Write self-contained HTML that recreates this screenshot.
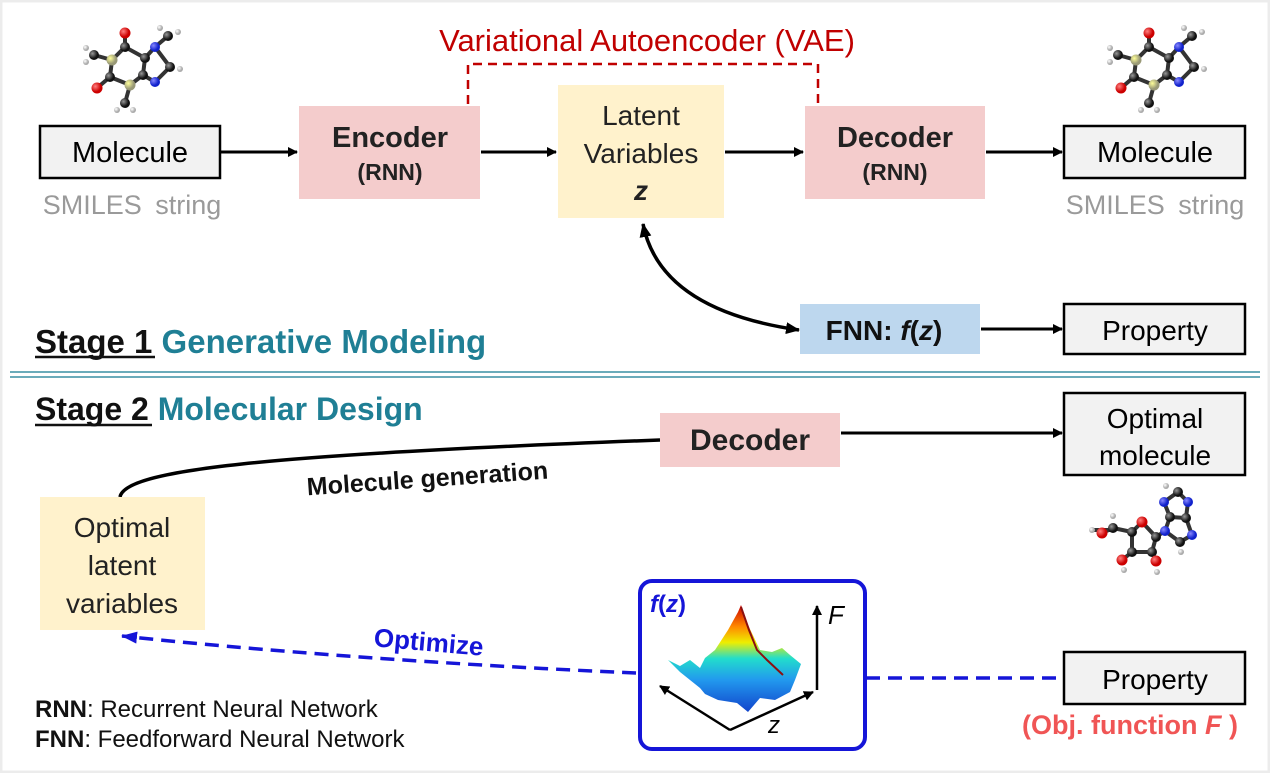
<!DOCTYPE html>
<html><head><meta charset="utf-8"><style>
html,body{margin:0;padding:0;background:#fff}
svg{display:block}
text{font-family:"Liberation Sans",Arial,sans-serif}
</style></head><body>
<svg width="1270" height="773" viewBox="0 0 1270 773" xmlns="http://www.w3.org/2000/svg">
<defs>
<marker id="ah" markerWidth="10" markerHeight="10" refX="9" refY="5" orient="auto" markerUnits="userSpaceOnUse"><path d="M0,0 L10,5 L0,10 z" fill="#000"/></marker>
<marker id="ahs" markerWidth="14" markerHeight="12" refX="13" refY="6" orient="auto-start-reverse" markerUnits="userSpaceOnUse"><path d="M0,0 L14,6 L0,12 z" fill="#000"/></marker>
<marker id="bh" markerWidth="16" markerHeight="12" refX="15" refY="6" orient="auto" markerUnits="userSpaceOnUse"><path d="M0,0 L16,6 L0,12 z" fill="#1515d8"/></marker>
<marker id="sa" markerWidth="10" markerHeight="10" refX="9" refY="5" orient="auto" markerUnits="userSpaceOnUse"><path d="M0,0 L10,5 L0,10 z" fill="#000"/></marker>
<radialGradient id="gk" cx="35%" cy="35%"><stop offset="0" stop-color="#999"/><stop offset="1" stop-color="#111"/></radialGradient>
<radialGradient id="gr" cx="35%" cy="35%"><stop offset="0" stop-color="#ff8080"/><stop offset="1" stop-color="#c00"/></radialGradient>
<radialGradient id="gb" cx="35%" cy="35%"><stop offset="0" stop-color="#88f"/><stop offset="1" stop-color="#12c"/></radialGradient>
<radialGradient id="gy" cx="35%" cy="35%"><stop offset="0" stop-color="#ff9"/><stop offset="1" stop-color="#997"/></radialGradient>
<radialGradient id="gw" cx="35%" cy="35%"><stop offset="0" stop-color="#fff"/><stop offset="1" stop-color="#aaa"/></radialGradient>
<linearGradient id="surf" x1="0" y1="0" x2="0" y2="1"><stop offset="0" stop-color="#c00"/><stop offset="0.2" stop-color="#f80"/><stop offset="0.35" stop-color="#ee0"/><stop offset="0.5" stop-color="#2dc"/><stop offset="0.7" stop-color="#29e"/><stop offset="1" stop-color="#14c"/></linearGradient>
<g id="caf">
 <g stroke="#333" stroke-width="4">
  <line x1="125" y1="47" x2="125" y2="33"/><line x1="125" y1="47" x2="145" y2="58"/><line x1="145" y1="58" x2="155" y2="47"/>
  <line x1="155" y1="47" x2="168" y2="36"/><line x1="155" y1="47" x2="170" y2="67"/><line x1="170" y1="67" x2="155" y2="82"/>
  <line x1="155" y1="82" x2="143" y2="75"/><line x1="143" y1="75" x2="145" y2="58"/><line x1="143" y1="75" x2="130" y2="85"/>
  <line x1="130" y1="85" x2="125" y2="103"/><line x1="130" y1="85" x2="110" y2="77"/><line x1="110" y1="77" x2="97" y2="88"/>
  <line x1="110" y1="77" x2="112" y2="60"/><line x1="112" y1="60" x2="125" y2="47"/><line x1="112" y1="60" x2="94" y2="55"/>
 </g>
 <circle cx="168" cy="36" r="5" fill="url(#gk)"/><circle cx="94" cy="55" r="5" fill="url(#gk)"/><circle cx="125" cy="103" r="5" fill="url(#gk)"/>
 <circle cx="178" cy="32" r="3" fill="url(#gw)"/><circle cx="160" cy="28" r="3" fill="url(#gw)"/><circle cx="86" cy="48" r="3" fill="url(#gw)"/><circle cx="86" cy="62" r="3" fill="url(#gw)"/><circle cx="117" cy="110" r="3" fill="url(#gw)"/><circle cx="133" cy="110" r="3" fill="url(#gw)"/><circle cx="180" cy="69" r="3" fill="url(#gw)"/>
 <circle cx="125" cy="47" r="5" fill="url(#gk)"/><circle cx="145" cy="58" r="5" fill="url(#gk)"/><circle cx="143" cy="75" r="5" fill="url(#gk)"/><circle cx="170" cy="67" r="5" fill="url(#gk)"/><circle cx="110" cy="77" r="5" fill="url(#gk)"/>
 <circle cx="125" cy="33" r="5.5" fill="url(#gr)"/><circle cx="97" cy="88" r="5.5" fill="url(#gr)"/>
 <circle cx="155" cy="47" r="5" fill="url(#gb)"/><circle cx="155" cy="82" r="5" fill="url(#gb)"/>
 <circle cx="130" cy="85" r="5.5" fill="url(#gy)"/><circle cx="112" cy="60" r="5.5" fill="url(#gy)"/>
</g>
</defs>
<rect x="1" y="1" width="1268" height="771" fill="#fff" stroke="#ececec" stroke-width="3"/>

<use href="#caf"/>
<use href="#caf" x="1024" y="0"/>

<rect x="40" y="126" width="180" height="52" fill="#f2f2f2" stroke="#000" stroke-width="2.5"/>
<text x="130" y="162" font-size="29" text-anchor="middle">Molecule</text>
<text x="132" y="214" font-size="27" text-anchor="middle" fill="#9a9a9a" word-spacing="6">SMILES string</text>
<line x1="221" y1="152" x2="297" y2="152" stroke="#000" stroke-width="3" marker-end="url(#ah)"/>

<rect x="299" y="106" width="181" height="93" fill="#f4cccc"/>
<text x="390" y="147" font-size="29" font-weight="bold" text-anchor="middle" fill="#222">Encoder</text>
<text x="390" y="180" font-size="23" font-weight="bold" text-anchor="middle" fill="#222">(RNN)</text>
<line x1="481" y1="152" x2="556" y2="152" stroke="#000" stroke-width="3" marker-end="url(#ah)"/>

<rect x="558" y="85" width="166" height="133" fill="#fff2cc"/>
<text x="641" y="125" font-size="28" text-anchor="middle" fill="#222">Latent</text>
<text x="641" y="163" font-size="28" text-anchor="middle" fill="#222">Variables</text>
<text x="641" y="200" font-size="28" font-weight="bold" font-style="italic" text-anchor="middle" fill="#222">z</text>
<line x1="725" y1="152" x2="803" y2="152" stroke="#000" stroke-width="3" marker-end="url(#ah)"/>

<rect x="805" y="106" width="180" height="93" fill="#f4cccc"/>
<text x="895" y="147" font-size="29" font-weight="bold" text-anchor="middle" fill="#222">Decoder</text>
<text x="895" y="180" font-size="23" font-weight="bold" text-anchor="middle" fill="#222">(RNN)</text>
<line x1="986" y1="152" x2="1062" y2="152" stroke="#000" stroke-width="3" marker-end="url(#ah)"/>

<rect x="1064" y="126" width="181" height="52" fill="#f2f2f2" stroke="#000" stroke-width="2.5"/>
<text x="1155" y="162" font-size="29" text-anchor="middle">Molecule</text>
<text x="1155" y="214" font-size="27" text-anchor="middle" fill="#9a9a9a" word-spacing="6">SMILES string</text>

<polyline points="468,104 468,64 818,64 818,104" fill="none" stroke="#c00000" stroke-width="2.5" stroke-dasharray="9,6"/>
<text x="647" y="51" font-size="31" text-anchor="middle" fill="#c00000">Variational Autoencoder (VAE)</text>

<path d="M643,224 Q660,310 799,330" fill="none" stroke="#000" stroke-width="3.5" marker-start="url(#ahs)" marker-end="url(#ahs)"/>
<rect x="800" y="304" width="180" height="50" fill="#bdd7ee"/>
<text x="884" y="340" font-size="28" font-weight="bold" text-anchor="middle" fill="#111">FNN: <tspan font-style="italic">f</tspan>(<tspan font-style="italic">z</tspan>)</text>
<line x1="981" y1="329" x2="1062" y2="329" stroke="#000" stroke-width="3" marker-end="url(#ah)"/>
<rect x="1064" y="304" width="181" height="50" fill="#f2f2f2" stroke="#000" stroke-width="2.5"/>
<text x="1155" y="340" font-size="28" text-anchor="middle">Property</text>

<text x="35" y="353" font-size="33" font-weight="bold"><tspan fill="#111">Stage 1</tspan><tspan fill="#1f7f95"> Generative Modeling</tspan></text>
<line x1="35" y1="357" x2="155" y2="357" stroke="#111" stroke-width="2.5"/>

<line x1="10" y1="372" x2="1260" y2="372" stroke="#3a8fa3" stroke-width="1.5"/>
<line x1="10" y1="377" x2="1260" y2="377" stroke="#3a8fa3" stroke-width="1.5"/>

<text x="35" y="420" font-size="32" font-weight="bold"><tspan fill="#111">Stage 2</tspan><tspan fill="#1f7f95"> Molecular Design</tspan></text>
<line x1="35" y1="425" x2="152" y2="425" stroke="#111" stroke-width="2.5"/>

<path d="M120,497 C125,470 260,455 660,440" fill="none" stroke="#000" stroke-width="3.5"/>
<text x="428" y="487" font-size="25" font-weight="bold" text-anchor="middle" fill="#111" transform="rotate(-4 428 487)">Molecule generation</text>
<rect x="660" y="413" width="180" height="54" fill="#f4cccc"/>
<text x="750" y="450" font-size="30" font-weight="bold" text-anchor="middle" fill="#222">Decoder</text>
<line x1="841" y1="433" x2="1062" y2="433" stroke="#000" stroke-width="3" marker-end="url(#ah)"/>
<rect x="1064" y="393" width="181" height="82" fill="#f2f2f2" stroke="#000" stroke-width="2.5"/>
<text x="1155" y="428" font-size="28" text-anchor="middle">Optimal</text>
<text x="1155" y="465" font-size="28" text-anchor="middle">molecule</text>

<g transform="translate(1080,480)">
 <g stroke="#333" stroke-width="4">
  <line x1="14" y1="50" x2="32" y2="50"/><line x1="22" y1="53" x2="33" y2="48"/><line x1="33" y1="48" x2="52" y2="52"/>
  <line x1="52" y1="52" x2="62" y2="42"/><line x1="62" y1="42" x2="76" y2="57"/><line x1="76" y1="57" x2="72" y2="72"/>
  <line x1="72" y1="72" x2="52" y2="72"/><line x1="52" y1="72" x2="52" y2="52"/><line x1="52" y1="72" x2="42" y2="80"/>
  <line x1="72" y1="72" x2="76" y2="81"/><line x1="76" y1="57" x2="85" y2="51"/><line x1="85" y1="51" x2="90" y2="37"/>
  <line x1="90" y1="37" x2="84" y2="22"/><line x1="84" y1="22" x2="98" y2="12"/><line x1="98" y1="12" x2="108" y2="22"/>
  <line x1="108" y1="22" x2="106" y2="38"/><line x1="106" y1="38" x2="90" y2="37"/><line x1="106" y1="38" x2="112" y2="55"/>
  <line x1="112" y1="55" x2="100" y2="62"/><line x1="100" y1="62" x2="85" y2="51"/>
 </g>
 <circle cx="33" cy="48" r="5" fill="url(#gk)"/><circle cx="52" cy="52" r="5" fill="url(#gk)"/><circle cx="52" cy="72" r="5" fill="url(#gk)"/><circle cx="72" cy="72" r="5" fill="url(#gk)"/><circle cx="76" cy="57" r="5" fill="url(#gk)"/>
 <circle cx="90" cy="37" r="5" fill="url(#gk)"/><circle cx="98" cy="12" r="5" fill="url(#gk)"/><circle cx="106" cy="38" r="5" fill="url(#gk)"/><circle cx="100" cy="62" r="5" fill="url(#gk)"/>
 <circle cx="62" cy="42" r="5.5" fill="url(#gr)"/><circle cx="22" cy="53" r="5.5" fill="url(#gr)"/><circle cx="42" cy="80" r="5.5" fill="url(#gr)"/><circle cx="76" cy="81" r="5.5" fill="url(#gr)"/>
 <circle cx="85" cy="51" r="5" fill="url(#gb)"/><circle cx="84" cy="22" r="5" fill="url(#gb)"/><circle cx="108" cy="22" r="5" fill="url(#gb)"/><circle cx="112" cy="55" r="5" fill="url(#gb)"/>
 <circle cx="12" cy="50" r="3" fill="url(#gw)"/><circle cx="33" cy="36" r="3" fill="url(#gw)"/><circle cx="44" cy="90" r="3" fill="url(#gw)"/><circle cx="77" cy="92" r="3" fill="url(#gw)"/><circle cx="86" cy="6" r="3" fill="url(#gw)"/><circle cx="101" cy="72" r="3" fill="url(#gw)"/>
</g>

<rect x="40" y="497" width="165" height="133" fill="#fff2cc"/>
<text x="122" y="537" font-size="28" text-anchor="middle" fill="#222">Optimal</text>
<text x="122" y="575" font-size="28" text-anchor="middle" fill="#222">latent</text>
<text x="122" y="613" font-size="28" text-anchor="middle" fill="#222">variables</text>

<path d="M636,673 C450,665 250,650 122,636" fill="none" stroke="#1515d8" stroke-width="3.5" stroke-dasharray="14,8" marker-end="url(#bh)"/>
<text x="428" y="651" font-size="26" font-weight="bold" text-anchor="middle" fill="#1515d8" transform="rotate(5 428 651)">Optimize</text>

<rect x="640" y="581" width="225" height="168" rx="12" fill="#fff" stroke="#1515d8" stroke-width="4"/>
<text x="650" y="612" font-size="24" font-weight="bold" font-style="italic" fill="#1515d8">f<tspan font-style="normal">(</tspan>z<tspan font-style="normal">)</tspan></text>
<path d="M668,660 L680,666 L690,660 L700,668 L705,658 L715,650 L728,630 L738,612 L741,605 L748,625 L760,650 L772,652 L782,648 L790,655 L801,664 L795,680 L790,692 L775,700 L760,698 L748,712 L737,703 L718,700 L705,694 L700,688 L690,680 L680,672 Z" fill="url(#surf)"/>
<polyline points="741,607 749,630 757,650 767,660 783,675" fill="none" stroke="#8b1010" stroke-width="2"/>
<line x1="817" y1="690" x2="817" y2="606" stroke="#000" stroke-width="2.5" marker-end="url(#sa)"/>
<line x1="730" y1="730" x2="813" y2="692" stroke="#000" stroke-width="2.5" marker-end="url(#sa)"/>
<line x1="730" y1="730" x2="660" y2="686" stroke="#000" stroke-width="2.5" marker-end="url(#sa)"/>
<text x="828" y="624" font-size="26" font-style="italic" fill="#000">F</text>
<text x="768" y="733" font-size="24" font-style="italic" fill="#000">z</text>

<line x1="866" y1="678" x2="1062" y2="678" stroke="#1515d8" stroke-width="3.5" stroke-dasharray="14,8"/>
<rect x="1064" y="652" width="181" height="52" fill="#f2f2f2" stroke="#000" stroke-width="2.5"/>
<text x="1155" y="689" font-size="28" text-anchor="middle">Property</text>
<text x="1130" y="734" font-size="27" font-weight="bold" text-anchor="middle" fill="#f05555">(Obj. function <tspan font-style="italic">F</tspan> )</text>

<text x="35" y="717" font-size="24" fill="#111"><tspan font-weight="bold">RNN</tspan>: Recurrent Neural Network</text>
<text x="35" y="747" font-size="24" fill="#111"><tspan font-weight="bold">FNN</tspan>: Feedforward Neural Network</text>
</svg>
</body></html>
